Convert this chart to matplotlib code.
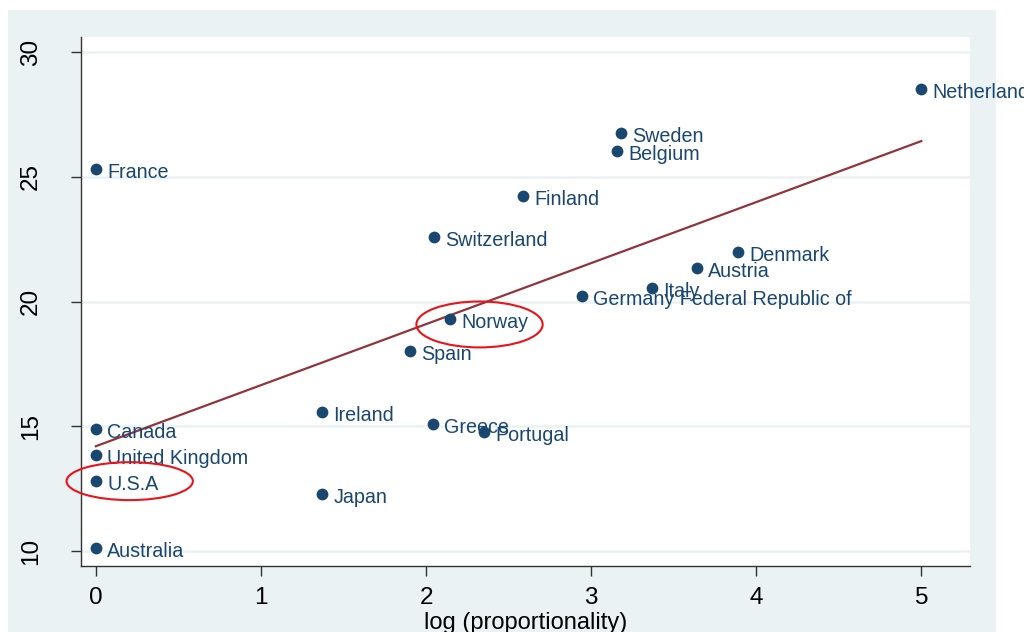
import numpy as np
import matplotlib.pyplot as plt
from matplotlib.patches import Ellipse, Rectangle

plt.rcParams['font.family'] = ['Liberation Sans', 'DejaVu Sans']

# country, log(proportionality), outcome
countries = ['Netherlands', 'Sweden', 'Belgium', 'France', 'Finland', 'Switzerland',
             'Denmark', 'Austria', 'Italy', 'Germany Federal Republic of', 'Norway',
             'Spain', 'Ireland', 'Greece', 'Portugal', 'Canada', 'United Kingdom',
             'U.S.A', 'Japan', 'Australia']
log_prop = [5.0, 3.18, 3.155, 0.0, 2.585, 2.047,
            3.89, 3.64, 3.367, 2.944, 2.144,
            1.90, 1.368, 2.04, 2.35, 0.0, 0.0,
            0.0, 1.37, 0.0]
value = [28.52, 26.76, 26.04, 25.32, 24.24, 22.60,
         22.00, 21.36, 20.56, 20.24, 19.28,
         18.00, 15.56, 15.08, 14.76, 14.88, 13.84,
         12.80, 12.28, 10.12]

# circled countries: (name, x shift, y shift, width, height) of the ring
circled = [('Norway', 0.18, -0.2, 0.765, 1.84),
           ('U.S.A', 0.205, 0.0, 0.765, 1.52)]

x = np.array(log_prop)
y = np.array(value)

navy = '#1a476f'
maroon = '#90353b'
bg = '#eaf2f3'

fig = plt.figure(figsize=(10.24, 6.32), dpi=100, facecolor='white')
# graph region background
fig.patches.append(Rectangle((8 / 1024, 0), 988 / 1024, 622 / 632,
                             transform=fig.transFigure, facecolor=bg,
                             edgecolor='none', zorder=-10))

ax = fig.add_axes([81 / 1024, 1 - 566 / 632, 889 / 1024, 529 / 632])
ax.set_facecolor('white')

ax.scatter(x, y, s=72, color=navy, zorder=3, linewidths=0)
for name, xi, yi in zip(countries, x, y):
    ax.text(xi + 0.07, yi - 0.14, name, color=navy, fontsize=14.2,
            va='center', ha='left', zorder=4)

# linear fit
b, a = np.polyfit(x, y, 1)
xf = np.array([x.min(), x.max()])
ax.plot(xf, a + b * xf, color=maroon, lw=1.6, zorder=2)

# red rings
for name, dx, dy, w, h in circled:
    i = countries.index(name)
    ax.add_patch(Ellipse((x[i] + dx, y[i] + dy), w, h, fill=False,
                         edgecolor='#e8141a', lw=1.5, zorder=5, clip_on=False))

ax.set_xlim(-0.09, 5.295)
ax.set_ylim(9.4, 30.6)
ax.set_xticks([0, 1, 2, 3, 4, 5])
ax.set_yticks([10, 15, 20, 25, 30])
ax.grid(axis='y', color=bg, lw=1.8)
ax.set_axisbelow(True)

for side in ['top', 'right']:
    ax.spines[side].set_visible(False)
for side in ['left', 'bottom']:
    ax.spines[side].set_color('#333333')
    ax.spines[side].set_linewidth(1.0)

ax.tick_params(axis='both', direction='out', length=7, width=1.0,
               color='#333333', labelsize=17.5)
ax.tick_params(axis='x', pad=8)
ax.tick_params(axis='y', pad=21)
plt.setp(ax.get_yticklabels(), rotation=90, va='center')
ax.set_xlabel('log (proportionality)', fontsize=17, labelpad=2)

fig.savefig('out.png', dpi=100, facecolor=fig.get_facecolor())
